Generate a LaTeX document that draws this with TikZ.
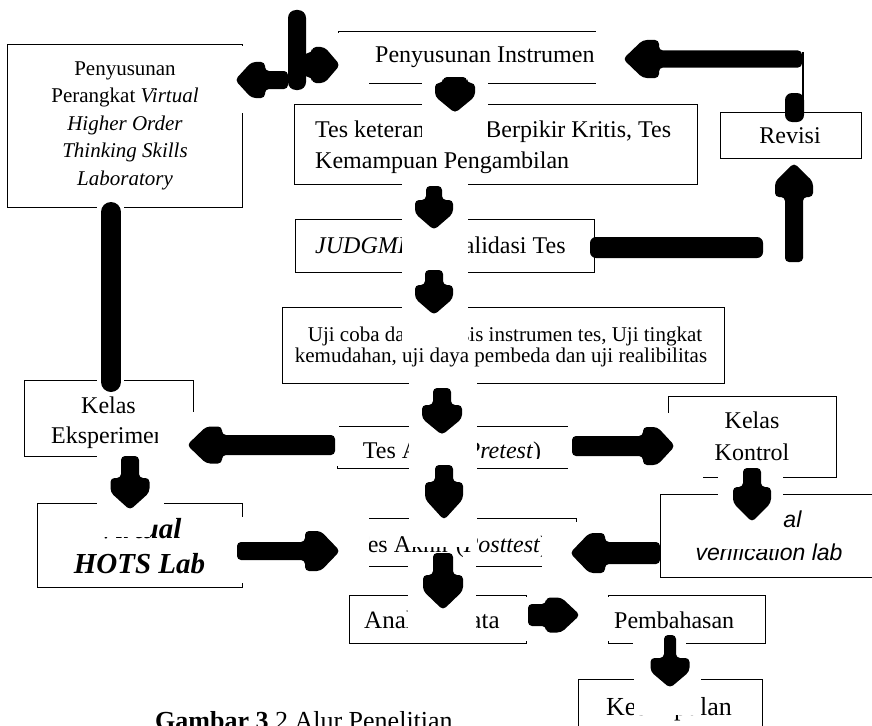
\documentclass[tikz,border=0pt]{standalone}
\usepackage{fontspec}
\setmainfont{Liberation Serif}
\newfontfamily\arialf{Liberation Sans}
\newcommand\blkarrow[7]{% tipx, tipy, angle, length, stemhalf, headhalf, headlen
 \begin{scope}[shift={(#1,#2)},rotate=#3]
 \fill[black,rounded corners=4pt] (-#4,-#5) -- (-#7,-#5) -- (-#7,-#6) -- ({-0.55*#7},-#6) -- (0,0) -- ({-0.55*#7},#6) -- (-#7,#6) -- (-#7,#5) -- (-#4,#5) -- cycle;
 \end{scope}}
\begin{document}
\begin{tikzpicture}[x=1pt,y=-1pt,
  box/.style={draw, line width=1.2pt, inner sep=0pt, anchor=north west},
  tx/.style={inner sep=0pt, anchor=base, font=\fontsize{24}{29}\selectfont},
  txl/.style={tx, anchor=base west},
  tsm/.style={inner sep=0pt, anchor=base, font=\fontsize{21}{27}\selectfont},
  tuji/.style={inner sep=0pt, anchor=base, font=\fontsize{21}{25}\selectfont},
  thots/.style={inner sep=0pt, anchor=base, font=\fontsize{29}{35}\selectfont\bfseries\itshape},
  tver/.style={inner sep=0pt, anchor=base, font=\fontsize{23}{30}\selectfont\arialf\itshape},
  mask/.style={fill=white, draw=none}]
\useasboundingbox (0,0) rectangle (872,725);
\clip (0,0) rectangle (872,725);
\fill[white] (0,0) rectangle (872,725);

% ---------- boxes ----------
\node[box, minimum width=235pt, minimum height=163pt] (b1) at (7,44) {};
\node[box, minimum width=292pt, minimum height=52pt] (b2) at (338,31) {};
\node[box, minimum width=403pt, minimum height=80pt] (b3) at (294,104) {};
\node[box, minimum width=141pt, minimum height=46pt] (rev) at (720,112) {};
\node[box, minimum width=299pt, minimum height=53pt] (b4) at (295,219) {};
\node[box, minimum width=442pt, minimum height=76pt] (b5) at (282,307) {};
\node[box, minimum width=169pt, minimum height=76pt] (eksp) at (24,380) {};
\node[box, minimum width=205pt, minimum height=84pt] (hots) at (37,503) {};
\node[box, minimum width=232pt, minimum height=42pt] (awal) at (337,426) {};
\node[box, minimum width=249pt, minimum height=48pt] (akhir) at (327,518) {};
\node[box, minimum width=168pt, minimum height=81pt] (kontrol) at (668,396) {};
\node[box, minimum width=220pt, minimum height=83pt] (verif) at (660,494) {};
\node[box, minimum width=177pt, minimum height=48pt] (anal) at (349,595) {};
\node[box, minimum width=157pt, minimum height=48pt] (pemb) at (608,595) {};
\node[box, minimum width=184pt, minimum height=60pt] (kesim) at (578,679) {};

% ---------- texts ----------
\node[tsm] (t1a) at (125,75) {Penyusunan};
\node[tsm] (t1b) at (125,102.5) {Perangkat \textit{Virtual}};
\node[tsm] (t1c) at (125,130) {\textit{Higher Order}};
\node[tsm] (t1d) at (125,157.5) {\textit{Thinking Skills}};
\node[tsm] (t1e) at (125,185) {\textit{Laboratory}};
\node[txl] (t2) at (375,63) {Penyusunan Instrumen};
\node[txl] (t3a) at (315,137) {Tes keterampilan Berpikir Kritis, Tes};
\node[txl] (t3b) at (315,168) {Kemampuan Pengambilan};
\node[tx] (trev) at (790,143) {Revisi};
\node[txl] (t4) at (315,253) {\textit{JUDGMENT} Validasi Tes};
\node[tuji] (t5a) at (505,341) {Uji coba dan analisis instrumen tes, Uji tingkat};
\node[tuji] (t5b) at (501,362) {kemudahan, uji daya pembeda dan uji realibilitas};
\node[tx] (teka) at (108.5,413) {Kelas};
\node[tx] (tekb) at (108.5,443) {Eksperimen};
\node[thots] (tha) at (139.5,538) {Virtual};
\node[thots] (thb) at (139.5,573) {HOTS Lab};
\node[tx] (tawal) at (452,458) {Tes Awal (\textit{Pretest})};
\node[tx] (takhir) at (451.5,552) {Tes Akhir (\textit{Posttest})};
\node[tx] (tka) at (752,428) {Kelas};
\node[tx] (tkb) at (752,460) {Kontrol};
\node[tver] (tva) at (769,527) {Virtual};
\node[tver] (tvb) at (769,560) {verification lab};
\node[txl, font=\fontsize{25}{30}\selectfont] (tanal) at (364,628) {Analisis Data};
\node[txl] (tpemb) at (614,628) {Pembahasan};
\node[tx, font=\fontsize{26}{30}\selectfont] (tkesim) at (669,715) {Kesimpulan};
\node[txl, font=\fontsize{26}{30}\selectfont] (cap) at (155,729) {\textbf{Gambar 3}.2 Alur Penelitian};

% ---------- white masks ----------
\fill[mask] (236,46) rectangle (287,113);
\fill[mask] (287,33) rectangle (369,91);
\fill[mask] (596,25) rectangle (660,95);
\fill[mask] (422,81) rectangle (488,146);
\fill[mask] (402,182) rectangle (468,343);
\fill[mask] (409,381) rectangle (477,547);
\fill[mask] (339,459) rectangle (567,466);
\fill[mask] (158,412) rectangle (339,466);
\fill[mask] (568,413) rectangle (703,480);
\fill[mask] (97,454) rectangle (164,507);
\fill[mask] (97,505) rectangle (150,537);
\fill[mask] (239,517) rectangle (369,583);
\fill[mask] (542,522) rectangle (659,580);
\fill[mask] (718,475) rectangle (783,530);
\fill[mask] (718,530) rectangle (780,549);
\fill[mask] (408,564) rectangle (476,638);
\fill[mask] (522,597) rectangle (610,641);
\fill[mask] (633,640) rectangle (686,679);
\fill[mask] (634,677) rectangle (701,715);
\fill[mask] (97,204) rectangle (124,210);
\fill[mask] (97,377) rectangle (124,383);

% ---------- block arrows ----------
\fill[black, rounded corners=8pt] (288,10) rectangle (306,90);
\blkarrow{235}{80}{180}{53}{9}{18}{30}
\blkarrow{340}{65}{0}{36}{12}{18}{28}
\blkarrow{455}{113}{-90}{36}{12}{20}{30}
\blkarrow{434}{230}{-90}{44}{8}{19}{30}
\blkarrow{434}{315}{-90}{45}{9}{19}{30}
\blkarrow{442}{435}{-90}{47}{9}{20}{30}
\blkarrow{444}{520}{-90}{55}{9}{19}{38}
\blkarrow{443}{610}{-90}{57}{10}{20}{35}
\blkarrow{187}{445}{180}{148}{10}{18.5}{35}
\blkarrow{675}{446}{0}{103}{10}{19}{32}
\blkarrow{130}{510}{-90}{54}{9}{19.5}{32}
\blkarrow{752}{522}{-90}{54}{9}{19}{35}
\blkarrow{340}{551}{0}{103}{9}{20}{35}
\blkarrow{570}{553}{180}{90}{11}{20}{35}
\blkarrow{580}{615}{0}{52}{11}{17.5}{34}
\blkarrow{670}{688}{-90}{53}{6}{19.5}{30}
\blkarrow{623}{59}{180}{179}{8.5}{19}{36}
\blkarrow{794}{163}{90}{99}{9}{19}{34}
\fill[black, rounded corners=6pt] (590,237) rectangle (763,258);
\draw[line width=1.2pt] (803,52) -- (803,112);
\fill[black, rounded corners=7pt] (785,93) rectangle (804,122);
\draw[line width=20pt, line cap=round] (111,212) -- (111,382);
\end{tikzpicture}
\end{document}
